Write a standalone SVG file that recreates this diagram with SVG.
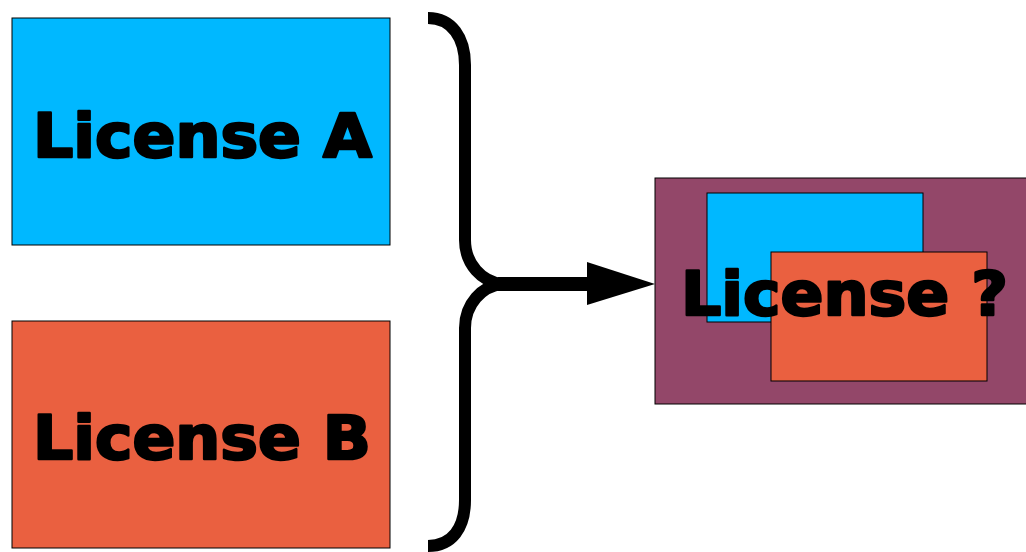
<svg xmlns="http://www.w3.org/2000/svg" width="1026" height="552" viewBox="0 0 1026 552">
<style>
.box{stroke:#000;stroke-width:1}
.blue{fill:#00B8FF}
.orange{fill:#EA6040}
.purple{fill:#934769}
.lbl{font-family:"DejaVu Sans","Liberation Sans",sans-serif;font-weight:bold;font-size:61px;fill:#000;stroke:#000;stroke-width:2.5;stroke-linejoin:round}
.brace{fill:none;stroke:#000;stroke-width:12}
</style>
<rect width="1026" height="552" fill="#fff"/>
<g id="licenseA">
<rect class="box blue" x="12" y="18" width="378" height="227"/>
<text class="lbl" x="33" y="157" textLength="339" lengthAdjust="spacingAndGlyphs">License A</text>
</g>
<g id="licenseB">
<rect class="box orange" x="12" y="321" width="378" height="227"/>
<text class="lbl" x="33" y="459" textLength="338" lengthAdjust="spacingAndGlyphs">License B</text>
</g>
<g id="connectors">
<path class="brace" d="M428,18 C452,18 465,38 465,65 L465,240 C465,264 482,282 502,284"/>
<path class="brace" d="M502,284 C482,286 465,304 465,328 L465,500 C465,528 452,546 428,546"/>
<line x1="498" y1="284" x2="595" y2="284" stroke="#000" stroke-width="14"/>
<polygon points="587,262 655,284 587,305" fill="#000"/>
</g>
<g id="licenseResult">
<rect class="box purple" x="655" y="178" width="380" height="226"/>
<rect class="box blue" x="707" y="193" width="216" height="129"/>
<rect class="box orange" x="771" y="252" width="216" height="129"/>
<text class="lbl" x="681" y="315" textLength="327" lengthAdjust="spacingAndGlyphs">License ?</text>
</g>
</svg>
